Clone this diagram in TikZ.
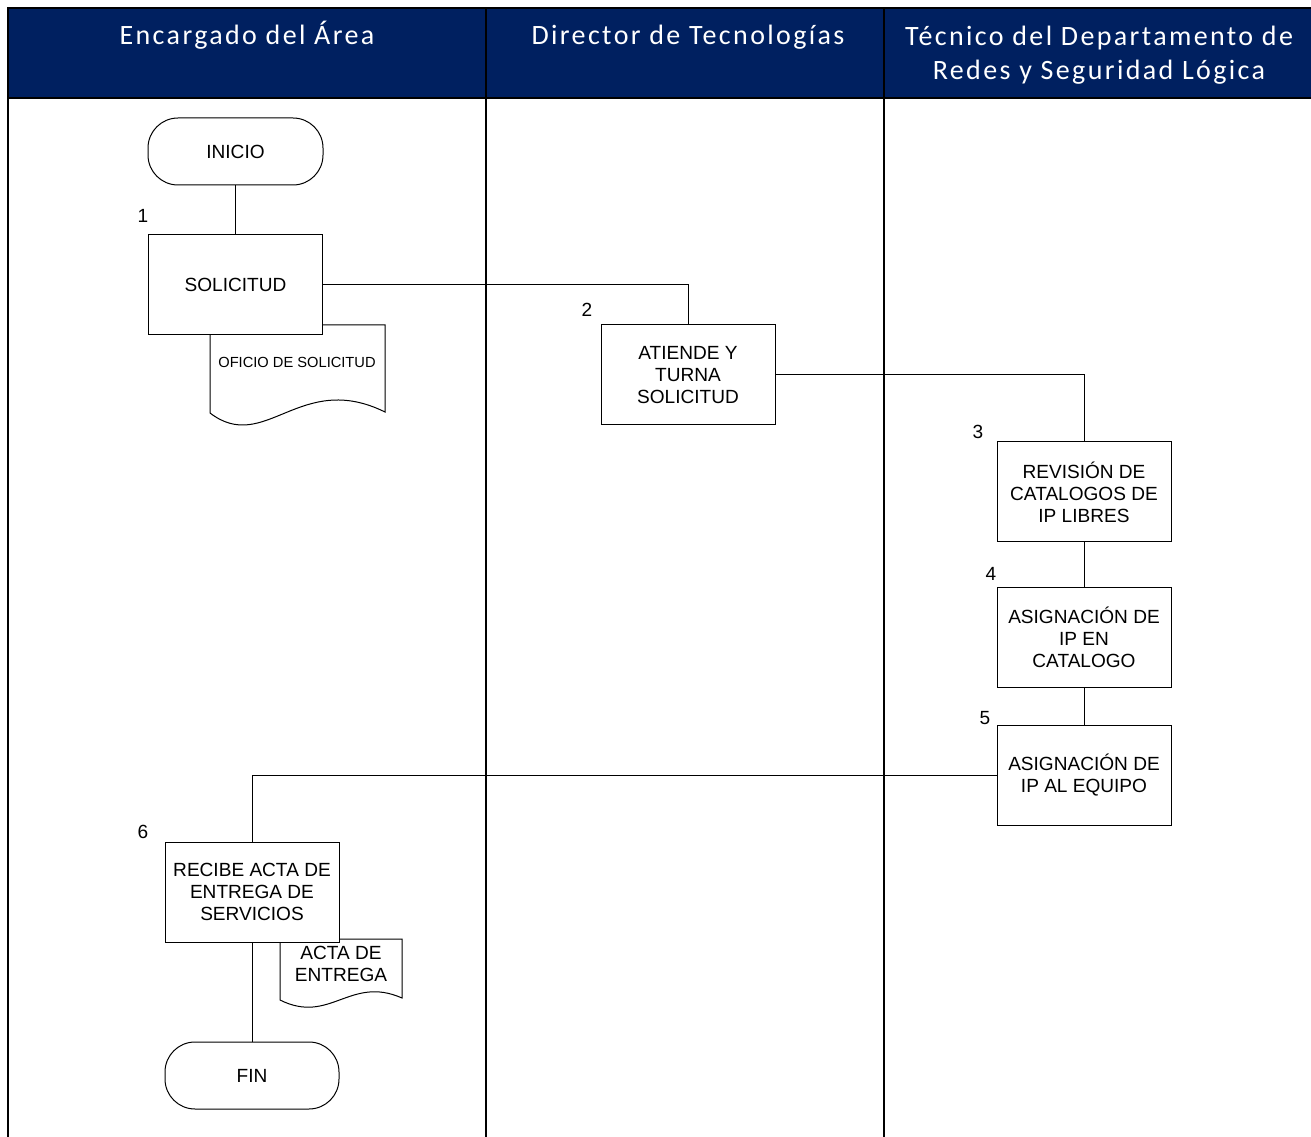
\documentclass[tikz,border=0pt]{standalone}
\usepackage{fontspec}
\setmainfont{Liberation Sans}
\newfontfamily\hdrfont[LetterSpace=8.5]{Carlito}
\definecolor{hdrblue}{HTML}{002060}
\begin{document}
\begin{tikzpicture}[x=0.75pt,y=-0.75pt,
  lane/.style={line width=1.4pt,draw=black},
  hdrtext/.style={text=white,font=\hdrfont\fontsize{21}{25.5}\selectfont,align=center,inner sep=0pt},
  procbox/.style={draw,fill=white,line width=0.75pt,minimum width=174*0.75pt,minimum height=100*0.75pt,align=center,inner sep=0pt,font=\fontsize{14.3}{16.5}\selectfont},
  termbox/.style={draw,fill=white,line width=0.75pt,rounded corners=30*0.75pt,minimum width=175*0.75pt,minimum height=67*0.75pt,inner sep=0pt,font=\fontsize{14.3}{16.5}\selectfont},
  stepnum/.style={inner sep=0pt,font=\fontsize{14.3}{16.5}\selectfont},
  doctext/.style={inner sep=0pt,align=center},
  conn/.style={line width=0.75pt,draw=black},
  docshape/.style={draw,fill=white,line width=0.75pt}]
\useasboundingbox (0,0) rectangle (1311,1137);
% header
\fill[hdrblue] (8,8) rectangle (1315,98);
\draw[line width=1.4pt] (1315,8) -- (8,8) -- (8,98) -- (1315,98);
% lanes
\draw[lane] (8,8) -- (8,1140);
\draw[lane] (486,8) -- (486,1140);
\draw[lane] (884,8) -- (884,1140);
\node[hdrtext,anchor=base] (h1) at (247,45) {Encargado del Área};
\node[hdrtext,anchor=base] (h2) at (688,45) {Director de Tecnologías};
\node[hdrtext] (h3) at (1099,55) {Técnico del Departamento de\\Redes y Seguridad Lógica};
% documents
\draw[docshape] (210,325) -- (385,325) -- (385,412) .. controls (300,370) and (265,455) .. (210,413) -- cycle;
\node[doctext,font=\fontsize{11}{13}\selectfont] (d1) at (297,362) {OFICIO DE SOLICITUD};
\draw[docshape] (280,939) -- (402,939) -- (402,998) .. controls (350,975) and (330,1025) .. (280,1000) -- cycle;
\node[doctext,font=\fontsize{14.3}{16.5}\selectfont] (d2) at (341,964) {ACTA DE\\ENTREGA};
% nodes
\node[termbox] (ini) at (235.5,151.5) {INICIO};
\node[procbox] (s1) at (235.5,285) {SOLICITUD};
\node[procbox] (s2) at (688,375) {ATIENDE Y\\TURNA\\SOLICITUD};
\node[procbox] (s3) at (1084,492) {REVISIÓN DE\\CATALOGOS DE\\IP LIBRES};
\node[procbox] (s4) at (1084,637) {ASIGNACIÓN DE\\IP EN\\CATALOGO};
\node[procbox] (s5) at (1084,775) {ASIGNACIÓN DE\\IP AL EQUIPO};
\node[procbox] (s6) at (252,892) {RECIBE ACTA DE\\ENTREGA DE\\SERVICIOS};
\node[termbox,minimum width=174*0.75pt] (fin) at (252,1075.5) {FIN};
% numbers
\node[stepnum] (n1) at (143,216) {1};
\node[stepnum] (n2) at (587,310) {2};
\node[stepnum] (n3) at (978,432) {3};
\node[stepnum] (n4) at (991,574) {4};
\node[stepnum] (n5) at (985,718) {5};
\node[stepnum] (n6) at (143,832) {6};
% connectors
\draw[conn] (ini) -- (s1);
\draw[conn] (s1.east) -| (s2.north);
\draw[conn] (s2.east) -| (s3.north);
\draw[conn] (s3) -- (s4);
\draw[conn] (s4) -- (s5);
\draw[conn] (s5.west) -| (s6.north);
\draw[conn] (s6) -- (fin);
\end{tikzpicture}
\end{document}
